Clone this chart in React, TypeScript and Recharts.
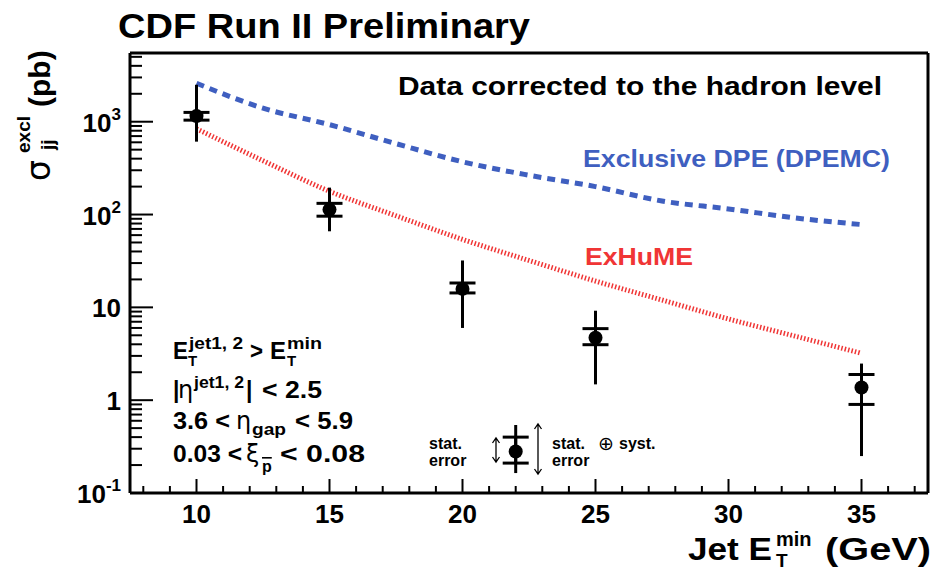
import React from "react";
import {
  ComposedChart,
  Line,
  Scatter,
  ErrorBar,
  XAxis,
  YAxis,
  ReferenceLine,
} from "recharts";

// Exclusive dijet cross section vs jet Et(min)
const etMin = [10, 15, 20, 25, 35];
const sigma = [1150, 113, 15.8, 4.7, 1.37];
const statLo = [1040, 96, 14.3, 3.96, 0.9];
const statHi = [1260, 132, 18.3, 5.9, 1.89];
const totLo = [610, 66, 6.0, 1.48, 0.25];
const totHi = [2500, 195, 32, 9.2, 2.48];

// model predictions
const curveEt = [10, 12.5, 15, 17.5, 20, 22.5, 25, 27.5, 30, 32.5, 35];
const dpemc = [2600, 1400, 930, 580, 370, 265, 200, 140, 115, 92, 78];
const exhume = [840, 380, 178, 97, 54, 32, 19.2, 12, 7.5, 4.9, 3.2];

// sample marker for the error legend
const sampleEt = [22];
const sampleSigma = [0.28];
const sampleStat = [0.21, 0.4];
const sampleTot = [0.164, 0.54];

const xLabels = [10, 15, 20, 25, 30, 35];
const yDecades = [0.1, 1, 10, 100, 1000];
const yExp = ["-1", "", "", "2", "3"];

const X_MIN = 7.5;
const X_MAX = 37.5;
const Y_MIN = 0.1;
const Y_MAX = 5500;

const FONT = '"Liberation Sans", Arial, Helvetica, sans-serif';
const GREEK = '"DejaVu Sans", "Liberation Sans", sans-serif';
const BLUE = "#3f5fc0";
const RED = "#f03535";

// ErrorBar wants [minus, plus] offsets from the central value
const withErrors = (x: number, y: number, sLo: number, sHi: number, tLo: number, tHi: number) => ({
  x,
  y,
  statErr: [y - sLo, sHi - y],
  totErr: [y - tLo, tHi - y],
});

const points = etMin.map((x, i) => withErrors(x, sigma[i], statLo[i], statHi[i], totLo[i], totHi[i]));
const sample = sampleEt.map((x, i) =>
  withErrors(x, sampleSigma[i], sampleStat[0], sampleStat[1], sampleTot[0], sampleTot[1])
);
const dpemcData = curveEt.map((x, i) => ({ x, y: dpemc[i] }));
const exhumeData = curveEt.map((x, i) => ({ x, y: exhume[i] }));

const xTicks: number[] = [];
for (let t = 8; t <= 37; t++) xTicks.push(t);
const yTicks: number[] = [];
yDecades.forEach((d) => {
  for (let k = 1; k <= 9; k++) if (k * d <= Y_MAX) yTicks.push(k * d);
});

const Dot = (p: any) => <circle cx={p.cx} cy={p.cy} r={7} fill="#000" />;

const X_MARGIN = 10;
const Y_MARGIN = 10;

const XTick = (props: any) => {
  const { x, y, payload } = props;
  const v = payload.value;
  const axisY = y - X_MARGIN;
  const major = xLabels.includes(v);
  return (
    <g>
      <line x1={x} x2={x} y1={axisY} y2={axisY - (major ? 14 : 7)} stroke="#000" strokeWidth={2} />
      {major && (
        <text x={x} y={axisY + 30} textAnchor="middle" fontSize={26} fontWeight="bold" fontFamily={FONT} fill="#000">
          {v}
        </text>
      )}
    </g>
  );
};

const YTick = (props: any) => {
  const { x, y, payload } = props;
  const v = payload.value;
  const axisX = x + Y_MARGIN;
  const di = yDecades.findIndex((d) => Math.abs(d - v) < d * 1e-6);
  const major = di >= 0;
  return (
    <g>
      <line x1={axisX} x2={axisX + (major ? 23 : 12)} y1={y} y2={y} stroke="#000" strokeWidth={2} />
      {major && (
        <text x={x + 1} y={y + 10} textAnchor="end" fontSize={26} fontWeight="bold" fontFamily={FONT} fill="#000">
          {yExp[di] === "" ? String(yDecades[di]) : "10"}
          {yExp[di] !== "" && (
            <tspan dy={-12} fontSize={17}>
              {yExp[di]}
            </tspan>
          )}
        </text>
      )}
    </g>
  );
};

const Arrow = ({ x, y1, y2 }: { x: number; y1: number; y2: number }) => (
  <path
    d={`M${x} ${y1} L${x} ${y2} M${x - 3.5} ${y1 + 5} L${x} ${y1} L${x + 3.5} ${y1 + 5} M${x - 3.5} ${y2 - 5} L${x} ${y2} L${x + 3.5} ${y2 - 5}`}
    stroke="#000"
    strokeWidth={1.3}
    fill="none"
  />
);

const App = () => {
  const bold = { fontFamily: FONT, fontWeight: "bold" as const, fill: "#000" };
  const fit = "spacingAndGlyphs";
  return (
    <div style={{ position: "absolute", left: 0, top: 0, width: 937, height: 570, background: "#fff", overflow: "hidden" }}>
      <ComposedChart width={937} height={570} margin={{ top: 53, right: 9, bottom: 0, left: 0 }}>
        <XAxis
          dataKey="x"
          type="number"
          domain={[X_MIN, X_MAX]}
          ticks={xTicks}
          interval={0}
          allowDataOverflow
          height={77}
          tickSize={0}
          tickMargin={X_MARGIN}
          tickLine={false}
          axisLine={{ stroke: "#000", strokeWidth: 3 }}
          tick={<XTick />}
        />
        <YAxis
          type="number"
          scale="log"
          domain={[Y_MIN, Y_MAX]}
          ticks={yTicks}
          interval={0}
          allowDataOverflow
          width={130}
          tickSize={0}
          tickMargin={Y_MARGIN}
          tickLine={false}
          axisLine={{ stroke: "#000", strokeWidth: 3 }}
          tick={<YTick />}
        />
        <ReferenceLine y={Y_MAX} stroke="#000" strokeWidth={3} />
        <ReferenceLine x={X_MAX} stroke="#000" strokeWidth={3} />
        <Line
          data={dpemcData}
          dataKey="y"
          type="monotone"
          stroke={BLUE}
          strokeWidth={5}
          strokeDasharray="8 6"
          dot={false}
          isAnimationActive={false}
        />
        <Line
          data={exhumeData}
          dataKey="y"
          type="monotone"
          stroke={RED}
          strokeWidth={5}
          strokeDasharray="1.5 2"
          dot={false}
          isAnimationActive={false}
        />
        <Scatter data={points} dataKey="y" shape={<Dot />} isAnimationActive={false}>
          <ErrorBar dataKey="totErr" direction="y" width={0} stroke="#000" strokeWidth={3} isAnimationActive={false} />
          <ErrorBar dataKey="statErr" direction="y" width={13} stroke="#000" strokeWidth={3} isAnimationActive={false} />
        </Scatter>
        <Scatter data={sample} dataKey="y" shape={<Dot />} isAnimationActive={false}>
          <ErrorBar dataKey="totErr" direction="y" width={0} stroke="#000" strokeWidth={3} isAnimationActive={false} />
          <ErrorBar dataKey="statErr" direction="y" width={13} stroke="#000" strokeWidth={3} isAnimationActive={false} />
        </Scatter>
      </ComposedChart>

      <svg width={937} height={570} style={{ position: "absolute", left: 0, top: 0, pointerEvents: "none" }}>
        <text x={118} y={38} fontSize={35} textLength={412} lengthAdjust={fit} {...bold}>
          CDF Run II Preliminary
        </text>

        {/* y axis title */}
        <g transform="translate(50,190) rotate(-90)">
          <text x={9} y={0} fontSize={33} fontFamily={GREEK} fill="#000">σ</text>
          <text x={37} y={-20} fontSize={19} {...bold}>excl</text>
          <text x={40} y={4} fontSize={19} {...bold}>jj</text>
          <text x={83} y={0} fontSize={30} {...bold}>(pb)</text>
        </g>

        {/* x axis title */}
        <text x={688} y={560} fontSize={31} textLength={84} lengthAdjust={fit} {...bold}>Jet E</text>
        <text x={776} y={546} fontSize={20} {...bold}>min</text>
        <text x={776} y={567} fontSize={19} {...bold}>T</text>
        <text x={825} y={560} fontSize={31} textLength={106} lengthAdjust={fit} {...bold}>(GeV)</text>

        <text x={398} y={95} fontSize={26} textLength={484} lengthAdjust={fit} {...bold}>
          Data corrected to the hadron level
        </text>
        <text x={583} y={167} fontSize={24} textLength={307} lengthAdjust={fit} {...bold} fill={BLUE}>
          Exclusive DPE (DPEMC)
        </text>
        <text x={585} y={265} fontSize={24} textLength={108} lengthAdjust={fit} {...bold} fill={RED}>
          ExHuME
        </text>

        {/* selection cuts */}
        <g fontSize={23} {...bold}>
          <text x={173} y={359} textLength={15} lengthAdjust={fit}>E</text>
          <text x={189} y={349} fontSize={16} textLength={54} lengthAdjust={fit}>jet1, 2</text>
          <text x={188} y={366} fontSize={15}>T</text>
          <text x={250} y={359} textLength={13} lengthAdjust={fit}>{">"}</text>
          <text x={270} y={359} textLength={16} lengthAdjust={fit}>E</text>
          <text x={287} y={349} fontSize={16} textLength={35} lengthAdjust={fit}>min</text>
          <text x={287} y={366} fontSize={15}>T</text>

          <text x={173} y={398}>|</text>
          <text x={178} y={398} fontFamily={GREEK} fontWeight="normal" fontSize={24}>η</text>
          <text x={194} y={388} fontSize={16} textLength={50} lengthAdjust={fit}>jet1, 2</text>
          <text x={246} y={398}>|</text>
          <text x={262} y={398} textLength={60} lengthAdjust={fit}>{"< 2.5"}</text>

          <text x={173} y={429} textLength={57} lengthAdjust={fit}>{"3.6 <"}</text>
          <text x={236} y={429} fontFamily={GREEK} fontWeight="normal" fontSize={24}>η</text>
          <text x={252} y={435} fontSize={16} textLength={34} lengthAdjust={fit}>gap</text>
          <text x={295} y={429} textLength={58} lengthAdjust={fit}>{"< 5.9"}</text>

          <text x={173} y={462} textLength={69} lengthAdjust={fit}>{"0.03 <"}</text>
          <text x={246} y={462} fontFamily={GREEK} fontWeight="normal" fontSize={24}>ξ</text>
          <text x={262} y={472} fontSize={16} textDecoration="overline">p</text>
          <text x={280} y={462} textLength={85} lengthAdjust={fit}>{"< 0.08"}</text>
        </g>

        {/* error legend */}
        <g fontSize={16} {...bold}>
          <text x={429} y={449}>stat.</text>
          <text x={429} y={466}>error</text>
          <text x={552} y={449}>stat.</text>
          <text x={598} y={450} fontFamily={GREEK} fontWeight="normal" fontSize={19}>⊕</text>
          <text x={619} y={449}>syst.</text>
          <text x={552} y={466}>error</text>
        </g>
        <Arrow x={496} y1={438} y2={462} />
        <Arrow x={538} y1={424} y2={474} />
      </svg>
    </div>
  );
};

export default App;
